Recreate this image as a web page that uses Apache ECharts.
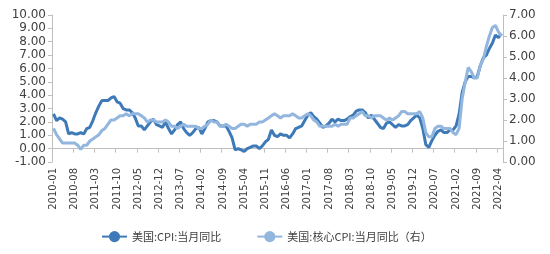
<!DOCTYPE html>
<html>
<head>
<meta charset="utf-8">
<script src="https://cdn.jsdelivr.net/npm/echarts@6/dist/echarts.min.js"></script>
<style>html,body{margin:0;padding:0;background:#fff}#c{width:550px;height:254px}</style>
</head>
<body>
<div id="c"></div>
<script>
// categories: monthly, 2010-01 .. 2022-05
const months = [];
for (let y = 2010; y <= 2022; y++) {
  for (let m = 1; m <= 12; m++) {
    if (y === 2022 && m > 5) break;
    months.push(y + '-' + (m < 10 ? '0' + m : m));
  }
}
const seriesNames = ['美国:CPI:当月同比', '美国:核心CPI:当月同比（右）'];
// 美国:CPI:当月同比 (left axis)
const cpi = [
  2.6,2.1,2.3,2.2,2.0,1.1,1.2,1.1,1.1,1.2,1.1,1.5,
  1.6,2.1,2.7,3.2,3.6,3.6,3.6,3.8,3.9,3.5,3.4,3.0,
  2.9,2.9,2.7,2.3,1.7,1.7,1.4,1.7,2.0,2.2,1.8,1.7,
  1.6,2.0,1.5,1.1,1.4,1.8,2.0,1.5,1.2,1.0,1.2,1.5,
  1.6,1.1,1.5,2.0,2.1,2.1,2.0,1.7,1.7,1.7,1.3,0.8,
  -0.1,0.0,-0.1,-0.2,0.0,0.1,0.2,0.2,0.0,0.2,0.5,0.7,
  1.4,1.0,0.9,1.1,1.0,1.0,0.8,1.1,1.5,1.6,1.7,2.1,
  2.5,2.7,2.4,2.2,1.9,1.6,1.7,1.9,2.2,2.0,2.2,2.1,
  2.1,2.2,2.4,2.5,2.8,2.9,2.9,2.7,2.3,2.5,2.2,1.9,
  1.6,1.5,1.9,2.0,1.8,1.6,1.8,1.7,1.7,1.8,2.1,2.3,
  2.5,2.3,1.5,0.3,0.1,0.6,1.0,1.3,1.4,1.2,1.2,1.4,
  1.4,1.7,2.6,4.2,5.0,5.4,5.4,5.3,5.4,6.2,6.8,7.0,
  7.5,7.9,8.5,8.3,8.6
];
// 美国:核心CPI:当月同比 (right axis)
const core = [
  1.6,1.3,1.1,0.9,0.9,0.9,0.9,0.9,0.8,0.6,0.8,0.8,
  1.0,1.1,1.2,1.3,1.5,1.6,1.8,2.0,2.0,2.1,2.2,2.2,
  2.3,2.2,2.3,2.3,2.3,2.2,2.1,1.9,2.0,2.0,1.9,1.9,
  1.9,2.0,1.9,1.7,1.7,1.6,1.7,1.8,1.7,1.7,1.7,1.7,
  1.6,1.6,1.7,1.8,2.0,1.9,1.9,1.7,1.7,1.8,1.7,1.6,
  1.6,1.7,1.8,1.8,1.7,1.8,1.8,1.8,1.9,1.9,2.0,2.1,
  2.2,2.3,2.2,2.1,2.2,2.2,2.2,2.3,2.2,2.1,2.1,2.2,
  2.3,2.2,2.0,1.9,1.7,1.7,1.7,1.7,1.7,1.8,1.7,1.8,
  1.8,1.8,2.1,2.1,2.2,2.3,2.4,2.2,2.2,2.1,2.2,2.2,
  2.2,2.1,2.0,2.1,2.0,2.1,2.2,2.4,2.4,2.3,2.3,2.3,
  2.3,2.4,2.1,1.4,1.2,1.2,1.6,1.7,1.7,1.6,1.6,1.6,
  1.4,1.3,1.6,3.0,3.8,4.5,4.3,4.0,4.0,4.6,4.9,5.5,
  6.0,6.4,6.5,6.2,6.0
];

const axisGrey = '#bfbfbf';
const textColor = '#404040';
const chart = echarts.init(document.getElementById('c'), null, {renderer: 'canvas'});
chart.setOption({
  animation: false,
  grid: {left: 52, right: 47, top: 15, bottom: 92, containLabel: false},
  legend: {
    data: seriesNames,
    left: 96, top: 226,
    itemWidth: 25, itemHeight: 14, itemGap: 35,
    textStyle: {fontSize: 11, color: textColor, fontFamily: 'Noto Sans CJK SC'}
  },
  xAxis: [
    {
      type: 'category', data: months, boundaryGap: true, position: 'bottom',
      axisLine: {show: false, onZero: false},
      axisTick: {show: false},
      axisLabel: {interval: 6, rotate: 90, margin: 6, fontSize: 10, fontFamily: 'DejaVu Sans', color: textColor}
    },
    {
      type: 'category', data: months, boundaryGap: true, position: 'bottom',
      axisLine: {show: true, onZero: true, onZeroAxisIndex: 0, lineStyle: {color: axisGrey, width: 1}},
      axisTick: {show: true, interval: 6, length: 4, lineStyle: {color: axisGrey}},
      axisLabel: {show: false},
      splitLine: {show: false}
    }
  ],
  yAxis: [
    {
      type: 'value', min: -1, max: 10, interval: 1, position: 'left',
      axisLine: {show: true, lineStyle: {color: axisGrey}},
      axisTick: {show: true, length: 4, lineStyle: {color: axisGrey}},
      splitLine: {show: false},
      axisLabel: {formatter: v => v.toFixed(2), margin: 6, fontSize: 12, fontFamily: 'DejaVu Sans', color: textColor}
    },
    {
      type: 'value', min: 0, max: 7, interval: 1, position: 'right',
      axisLine: {show: true, lineStyle: {color: axisGrey}},
      axisTick: {show: true, length: 4, lineStyle: {color: axisGrey}},
      splitLine: {show: false},
      axisLabel: {formatter: v => v.toFixed(2), margin: 6, fontSize: 12, fontFamily: 'DejaVu Sans', color: textColor}
    }
  ],
  series: [
    {
      name: seriesNames[0], type: 'line', data: cpi, xAxisIndex: 0, yAxisIndex: 0,
      symbol: 'none', lineStyle: {width: 3, color: '#3f7ab8'}, itemStyle: {color: '#3f7ab8'}
    },
    {
      name: seriesNames[1], type: 'line', data: core, xAxisIndex: 0, yAxisIndex: 1,
      symbol: 'none', lineStyle: {width: 3, color: '#93b6df'}, itemStyle: {color: '#93b6df'}
    }
  ]
});
</script>
</body>
</html>
